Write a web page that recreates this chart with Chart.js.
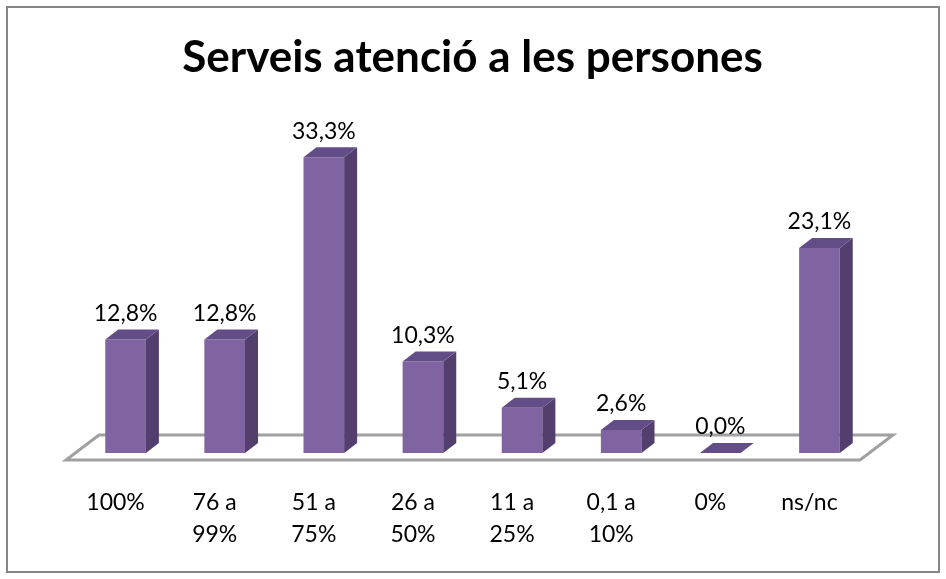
<!DOCTYPE html>
<html>
<head>
<meta charset="utf-8">
<script src="https://cdn.jsdelivr.net/npm/chart.js@4.4.1/dist/chart.umd.min.js"></script>
<style>
  body { margin: 0; background: #fff; }
  canvas { display: block; }
</style>
</head>
<body>
<canvas id="barChart" width="946" height="579"></canvas>
<script>
const categories = [["100%"], ["76 a", "99%"], ["51 a", "75%"], ["26 a", "50%"], ["11 a", "25%"], ["0,1 a", "10%"], ["0%"], ["ns/nc"]];
const percentages = [12.8, 12.8, 33.3, 10.3, 5.1, 2.6, 0.0, 23.1];
const chartTitle = "Serveis atenció a les persones";

const frontColor = "#8064a2";
const topColor = "#634d86";
const sideColor = "#523f6e";
const depthX = 13, depthY = -10;

// frame, floor and 3d faces of the bars
const bar3d = {
    id: "bar3d",
    beforeDraw(chart) {
        const ctx = chart.ctx;
        ctx.save();
        ctx.strokeStyle = "#868686";
        ctx.lineWidth = 2;
        ctx.strokeRect(7, 7, 932, 565);
        ctx.restore();
    },
    beforeDatasetsDraw(chart) {
        const ctx = chart.ctx;
        const area = chart.chartArea;
        const base = chart.scales.y.getPixelForValue(0);
        ctx.save();
        ctx.beginPath();
        ctx.moveTo(area.left - 10, base + 7);
        ctx.lineTo(area.right - 9, base + 7);
        ctx.lineTo(area.right + 24, base - 18);
        ctx.lineTo(area.left + 23, base - 18);
        ctx.closePath();
        ctx.fillStyle = "#ffffff";
        ctx.fill();
        ctx.strokeStyle = "#a0a0a0";
        ctx.lineWidth = 3;
        ctx.stroke();
        ctx.restore();
    },
    afterDatasetsDraw(chart) {
        const ctx = chart.ctx;
        const meta = chart.getDatasetMeta(0);
        ctx.save();
        meta.data.forEach(function(bar, i) {
            const p = bar.getProps(["x", "y", "base", "width"], true);
            const l = p.x - p.width / 2, r = p.x + p.width / 2;
            // side
            ctx.beginPath();
            ctx.moveTo(r, p.y);
            ctx.lineTo(r + depthX, p.y + depthY);
            ctx.lineTo(r + depthX, p.base + depthY);
            ctx.lineTo(r, p.base);
            ctx.closePath();
            ctx.fillStyle = sideColor;
            ctx.fill();
            // top
            ctx.beginPath();
            ctx.moveTo(l, p.y);
            ctx.lineTo(l + depthX, p.y + depthY);
            ctx.lineTo(r + depthX, p.y + depthY);
            ctx.lineTo(r, p.y);
            ctx.closePath();
            ctx.fillStyle = topColor;
            ctx.fill();
            // value label
            ctx.fillStyle = "#000";
            ctx.font = "23px Lato";
            ctx.textAlign = "center";
            ctx.textBaseline = "middle";
            ctx.fillText(percentages[i].toFixed(1).replace(".", ",") + "%", p.x, p.y - 26);
        });
        ctx.restore();
    }
};

new Chart(document.getElementById("barChart"), {
    type: "bar",
    data: {
        labels: categories,
        datasets: [{
            data: percentages,
            backgroundColor: frontColor,
            borderWidth: 0,
            barPercentage: 0.41,
            categoryPercentage: 1.0
        }]
    },
    options: {
        responsive: false,
        animation: false,
        layout: { padding: { left: 76, right: 77, top: 0, bottom: 2 } },
        plugins: {
            legend: { display: false },
            tooltip: { enabled: false },
            title: {
                display: true,
                text: chartTitle,
                color: "#000",
                font: { family: "Lato", size: 44, weight: "bold", lineHeight: 1.2 },
                padding: { top: 31, bottom: 14 }
            }
        },
        scales: {
            y: { display: false, min: 0, max: 40 },
            x: {
                grid: { display: false },
                border: { display: false },
                ticks: {
                    color: "#000",
                    font: { family: "Lato", size: 23, lineHeight: 1.39 },
                    padding: 26,
                    labelOffset: -10,
                    maxRotation: 0
                }
            }
        }
    },
    plugins: [bar3d]
});
</script>
</body>
</html>
